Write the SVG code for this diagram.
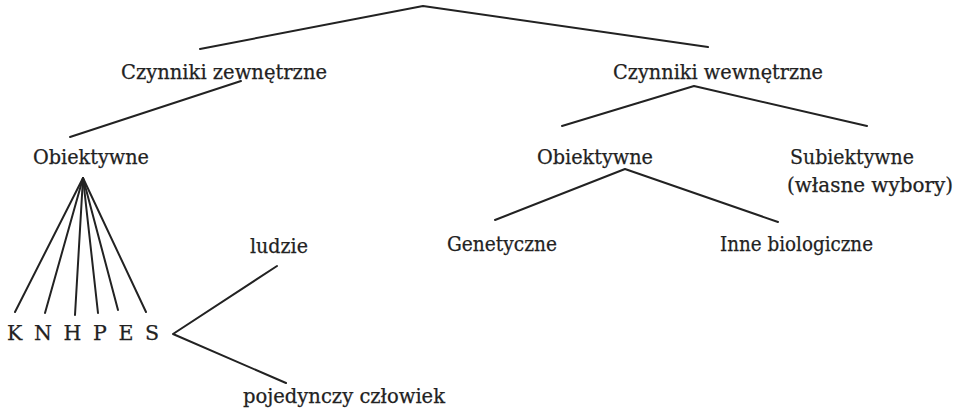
<svg xmlns="http://www.w3.org/2000/svg" width="959" height="413" viewBox="0 0 959 413">
<style>
text{font-family:"DejaVu Serif","Liberation Serif",serif;font-size:20.5px;fill:#222;stroke:#222;stroke-width:0.25}
.c line,.c polyline{stroke:#222;stroke-width:2;fill:none;stroke-linecap:round;stroke-linejoin:round}
</style>
<rect width="959" height="413" fill="#fff"/>
<g class="c" id="connectors">
<polyline points="200,49 423,6 708,47"/>
<line x1="241" y1="81" x2="70" y2="137"/>
<polyline points="562,126 694,86 867,126"/>
<polyline points="495,220 625,169 778,222"/>
<line x1="83" y1="178" x2="15" y2="312"/>
<line x1="83" y1="178" x2="45" y2="313"/>
<line x1="83" y1="178" x2="75" y2="315"/>
<line x1="83" y1="178" x2="98" y2="313"/>
<line x1="83" y1="178" x2="118" y2="310"/>
<line x1="83" y1="178" x2="146" y2="312"/>
<polyline points="277,266 173,334 286,383"/>
</g>
<g id="n-zew"><text x="121" y="79" textLength="206" lengthAdjust="spacingAndGlyphs">Czynniki zewnętrzne</text></g>
<g id="n-wew"><text x="613" y="79" textLength="210" lengthAdjust="spacingAndGlyphs">Czynniki wewnętrzne</text></g>
<g id="n-obL"><text x="33" y="164" textLength="116" lengthAdjust="spacingAndGlyphs">Obiektywne</text></g>
<g id="n-obR"><text x="537" y="164" textLength="116" lengthAdjust="spacingAndGlyphs">Obiektywne</text></g>
<g id="n-sub"><text x="790" y="164" textLength="124" lengthAdjust="spacingAndGlyphs">Subiektywne</text><text x="787" y="192" textLength="166" lengthAdjust="spacingAndGlyphs">(własne wybory)</text></g>
<g id="n-gen"><text x="447" y="251" textLength="110" lengthAdjust="spacingAndGlyphs">Genetyczne</text></g>
<g id="n-inne"><text x="720" y="251" textLength="153" lengthAdjust="spacingAndGlyphs">Inne biologiczne</text></g>
<g id="n-knhpes"><text x="7" y="340" textLength="152" lengthAdjust="spacing">K N H P E S</text></g>
<g id="n-ludzie"><text x="250" y="253" textLength="58" lengthAdjust="spacingAndGlyphs">ludzie</text></g>
<g id="n-poj"><text x="243" y="403" textLength="202" lengthAdjust="spacingAndGlyphs">pojedynczy człowiek</text></g>
</svg>
